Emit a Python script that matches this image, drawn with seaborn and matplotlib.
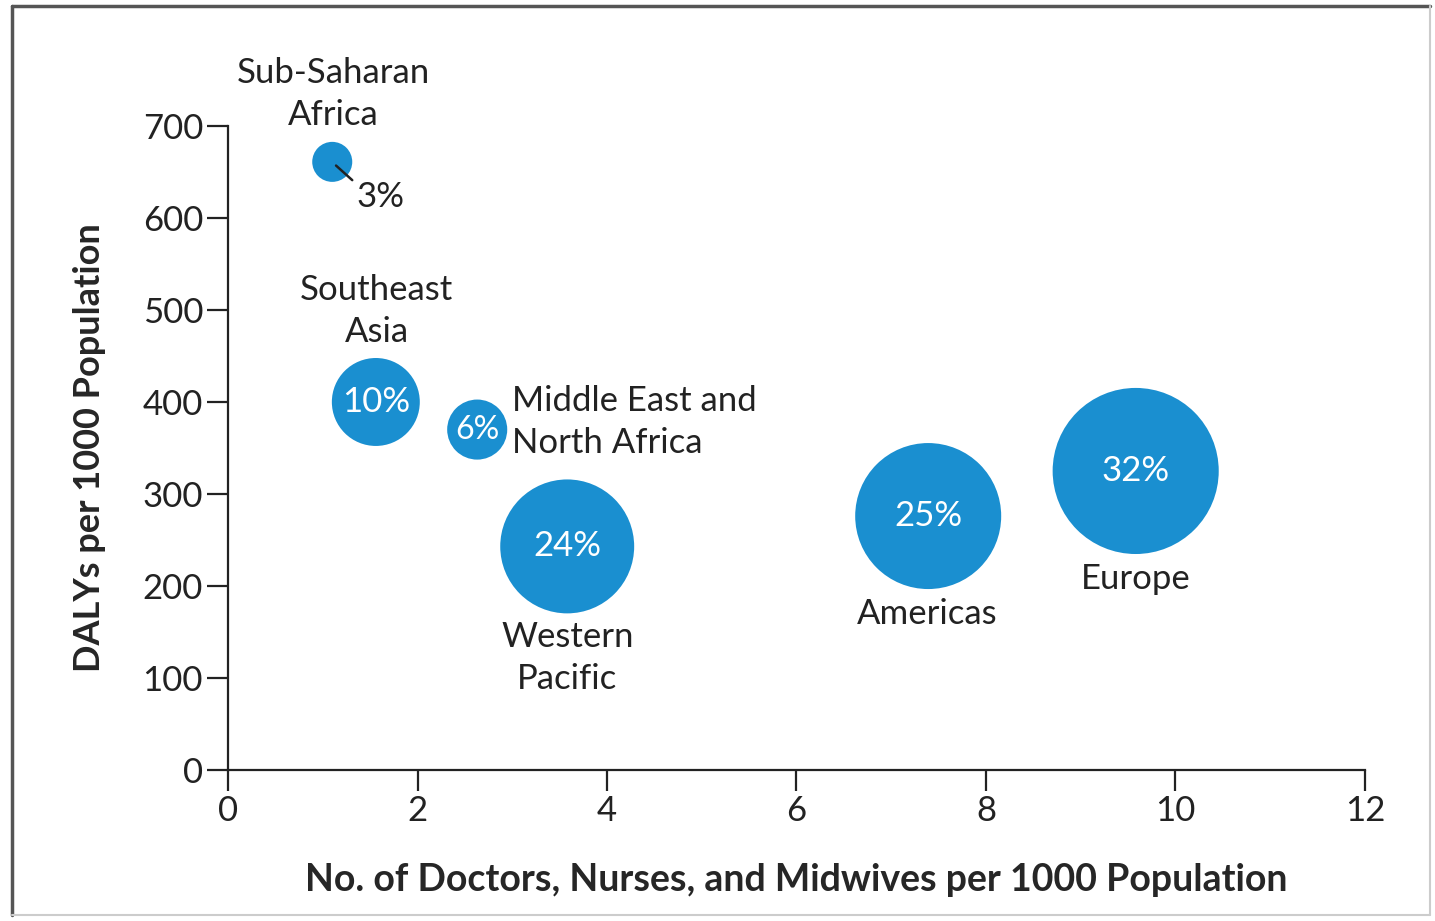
import matplotlib
matplotlib.use("Agg")
import matplotlib.pyplot as plt
import seaborn as sns
import pandas as pd
from matplotlib.lines import Line2D

# data
regions = ["Sub-Saharan Africa", "Southeast Asia", "Middle East and North Africa",
           "Western Pacific", "Americas", "Europe"]
workers = [1.10, 1.56, 2.63, 3.58, 7.39, 9.58]
dalys = [661, 400, 370, 243, 276, 325]
share = [3, 10, 6, 24, 25, 32]

df = pd.DataFrame({"region": regions, "workers": workers, "dalys": dalys, "share": share})

sns.set_style("white")
plt.rcParams["font.family"] = ["Lato", "DejaVu Sans"]
plt.rcParams["text.color"] = "#222222"

fig = plt.figure(figsize=(14.35, 9.21), dpi=100)
ax = fig.add_axes([0.1589, 0.164, 0.7923, 0.6992])

blue = "#1a8fd0"
# marker areas (pt^2) per share value, as drawn in the reference
bubble_area = {3: 830, 6: 1870, 10: 4010, 24: 9300, 25: 11050, 32: 14300}
sns.scatterplot(data=df, x="workers", y="dalys", size="share", sizes=bubble_area,
                color=blue, edgecolor="none", legend=False,
                ax=ax, clip_on=False, zorder=3)

ax.set_xlim(0, 12)
ax.set_ylim(0, 700)
ax.set_xticks(range(0, 13, 2))
ax.set_yticks(range(0, 701, 100))
for s in ["top", "right"]:
    ax.spines[s].set_visible(False)
for s in ["left", "bottom"]:
    ax.spines[s].set_color("#222222")
    ax.spines[s].set_linewidth(1.6)
ax.tick_params(axis="both", direction="out", length=15, width=1.6, color="#222222",
               labelsize=25, labelcolor="#222222", pad=3, bottom=True, left=True)
ax.set_facecolor("none")

ax.set_xlabel("No. of Doctors, Nurses, and Midwives per 1000 Population",
              fontsize=27, fontweight="bold", labelpad=26)
ax.set_ylabel("DALYs per 1000 Population", fontsize=26, fontweight="bold", labelpad=26)

# percentage labels inside bubbles
for x, y, p in zip(workers, dalys, share):
    if p >= 6:
        ax.text(x, y, f"{p}%", color="white", fontsize=25 if p > 6 else 23,
                ha="center", va="center", zorder=4)

# small bubble: label outside with leader line
ax.annotate(f"{share[0]}%", xy=(workers[0] + 0.04, dalys[0] - 4), xytext=(1.61, 623),
            ha="center", va="center", fontsize=25,
            arrowprops=dict(arrowstyle="-", color="#222222", lw=1.8, shrinkA=1, shrinkB=0,
                            relpos=(0.0, 0.9)),
            annotation_clip=False, zorder=5)

region_labels = [
    ("Sub-Saharan\nAfrica", 1.11, 735, "center"),
    ("Southeast\nAsia", 1.57, 499, "center"),
    ("Middle East and\nNorth Africa", 3.0, 378, "left"),
    ("Western\nPacific", 3.58, 122, "center"),
    ("Americas", 7.38, 170, "center"),
    ("Europe", 9.58, 208, "center"),
]
for txt, x, y, ha in region_labels:
    ax.text(x, y, txt, fontsize=25, ha=ha, va="center", linespacing=1.4,
            clip_on=False)

# outer frame
fig.add_artist(Line2D([12 / 1435, 1430 / 1435], [1 - 6 / 921, 1 - 6 / 921],
                      color="#555555", lw=2.5, transform=fig.transFigure))
fig.add_artist(Line2D([12 / 1435, 12 / 1435], [1 - 6 / 921, 1 - 915 / 921],
                      color="#555555", lw=2.5, transform=fig.transFigure))
fig.add_artist(Line2D([1430 / 1435, 1430 / 1435], [1 - 6 / 921, 1 - 915 / 921],
                      color="#cccccc", lw=1.5, transform=fig.transFigure))
fig.add_artist(Line2D([12 / 1435, 1430 / 1435], [1 - 915 / 921, 1 - 915 / 921],
                      color="#cccccc", lw=1.5, transform=fig.transFigure))

fig.savefig("out.png", dpi=100)
